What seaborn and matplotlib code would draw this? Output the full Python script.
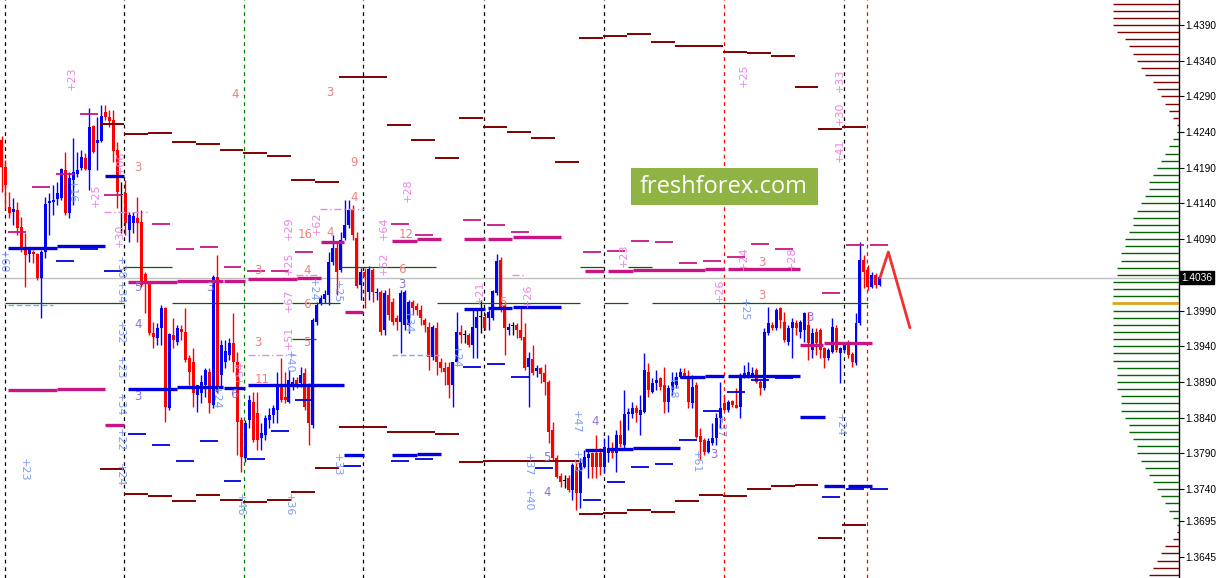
import numpy as np
import pandas as pd
import matplotlib
matplotlib.use("Agg")
import matplotlib.pyplot as plt
from matplotlib.patches import Rectangle
import seaborn as sns

sns.set_style("white")
plt.rcParams["font.family"] = ["DejaVu Sans"]

# =====================================================
# Candles (prices in pips, 1.0000 = 10000)
# =====================================================

opens = [14229, 14191, 14135, 14128, 14131, 14107, 14078, 14069, 14072, 14069,
         14036, 14072, 14141, 14142, 14146, 14148, 14187, 14127, 14173, 14181,
         14190, 14204, 14187, 14249, 14225, 14228, 14268, 14261, 14257, 14215,
         14152, 14155, 14103, 14113, 14120, 14114, 14041, 14030, 13959, 13952,
         13966, 13994, 13854, 13956, 13946, 13964, 13960, 13924, 13918, 13872,
         13875, 13886, 13904, 13858, 14037, 13900, 13918, 13928, 13945, 13918,
         13837, 13784, 13837, 13862, 13847, 13812, 13816, 13837, 13844, 13851,
         13886, 13869, 13862, 13886, 13893, 13889, 13903, 13883, 13830, 13974,
         14001, 14006, 14012, 14058, 14078, 14047, 14092, 14110, 14131, 14092,
         14026, 14044, 14016, 14047, 14015, 14016, 13963, 14012, 14002, 13980,
         13974, 13970, 13970, 14002, 13997, 13991, 13977, 13967, 13925, 13966,
         13918, 13910, 13911, 13886, 13918, 13960, 13956, 13956, 13942, 13966,
         13981, 13981, 13980, 13980, 14015, 14061, 13998, 13963, 13969, 13970,
         13963, 13953, 13911, 13922, 13906, 13910, 13903, 13890, 13823, 13784,
         13759, 13752, 13756, 13739, 13771, 13735, 13771, 13784, 13791, 13791,
         13791, 13771, 13791, 13798, 13791, 13816, 13802, 13845, 13845, 13854,
         13844, 13848, 13904, 13876, 13889, 13896, 13886, 13862, 13879, 13886,
         13897, 13903, 13897, 13861, 13886, 13815, 13809, 13792, 13805, 13812,
         13840, 13861, 13851, 13864, 13858, 13855, 13897, 13897, 13900, 13907,
         13890, 13882, 13959, 13970, 13966, 13994, 13974, 13946, 13966, 13973,
         13960, 13963, 13970, 13935, 13960, 13963, 13938, 13924, 13932, 13966,
         13931, 13935, 13946, 13929, 13917, 13973, 14061, 14047, 14023, 14040,
         14026]

closes = [14191, 14166, 14127, 14132, 14106, 14078, 14068, 14075, 14069, 14036,
          14072, 14139, 14144, 14145, 14155, 14188, 14127, 14176, 14184, 14187,
          14205, 14188, 14247, 14212, 14229, 14263, 14261, 14256, 14214, 14156,
          14152, 14113, 14124, 14123, 14113, 14026, 14030, 13959, 13953, 13966,
          13994, 13855, 13957, 13949, 13966, 13960, 13921, 13904, 13875, 13886,
          13890, 13907, 13861, 14037, 13876, 13942, 13934, 13945, 13918, 13834,
          13785, 13833, 13865, 13809, 13809, 13819, 13840, 13844, 13854, 13886,
          13865, 13865, 13893, 13890, 13886, 13900, 13855, 13833, 13977, 13998,
          14008, 14013, 14058, 14078, 14044, 14089, 14110, 14131, 14096, 14025,
          14044, 14037, 14048, 14016, 14016, 13960, 14015, 13984, 13974, 13974,
          14015, 14016, 14002, 13994, 13991, 13980, 13970, 13925, 13967, 13918,
          13910, 13904, 13886, 13918, 13960, 13956, 13956, 13942, 13967, 13981,
          13981, 13966, 13988, 14018, 14060, 13991, 13966, 13967, 13969, 13963,
          13952, 13910, 13924, 13903, 13910, 13901, 13890, 13820, 13784, 13757,
          13750, 13752, 13739, 13774, 13735, 13777, 13785, 13789, 13771, 13771,
          13771, 13799, 13798, 13791, 13816, 13803, 13845, 13848, 13854, 13847,
          13851, 13907, 13879, 13889, 13893, 13883, 13862, 13882, 13890, 13897,
          13904, 13897, 13862, 13883, 13813, 13806, 13792, 13808, 13812, 13840,
          13854, 13851, 13862, 13858, 13854, 13900, 13903, 13904, 13903, 13890,
          13882, 13960, 13973, 13966, 13991, 13977, 13949, 13966, 13974, 13966,
          13974, 13987, 13945, 13959, 13945, 13935, 13924, 13935, 13967, 13935,
          13938, 13945, 13928, 13918, 13973, 14061, 14044, 14023, 14040, 14026,
          14037]

highs = [14235, 14201, 14156, 14148, 14142, 14121, 14099, 14079, 14075, 14071,
         14075, 14149, 14155, 14166, 14170, 14190, 14212, 14184, 14232, 14212,
         14215, 14211, 14274, 14250, 14261, 14278, 14278, 14271, 14271, 14226,
         14170, 14173, 14128, 14128, 14149, 14131, 14044, 14030, 13974, 13973,
         13998, 13995, 13959, 13980, 13970, 13970, 13994, 13928, 13938, 13886,
         13900, 13910, 13910, 14040, 14068, 13949, 13949, 13952, 13987, 13932,
         13841, 13837, 13872, 13876, 13876, 13833, 13844, 13854, 13858, 13904,
         13924, 13904, 13907, 13897, 13897, 13911, 13910, 13889, 13980, 14002,
         14012, 14019, 14072, 14096, 14086, 14100, 14145, 14145, 14138, 14100,
         14050, 14050, 14053, 14050, 14022, 14019, 14019, 14022, 14008, 13984,
         14019, 14019, 14005, 14005, 14001, 13998, 13980, 13974, 13970, 13974,
         13924, 13918, 13918, 13918, 13988, 13970, 13963, 13959, 13994, 13994,
         14005, 13987, 13991, 14019, 14069, 14065, 14002, 13973, 13974, 13973,
         13994, 13973, 13932, 13942, 13914, 13911, 13915, 13893, 13834, 13788,
         13763, 13760, 13760, 13777, 13778, 13784, 13795, 13795, 13792, 13816,
         13798, 13812, 13816, 13806, 13823, 13837, 13879, 13854, 13862, 13858,
         13872, 13931, 13917, 13896, 13907, 13897, 13911, 13886, 13904, 13904,
         13910, 13910, 13907, 13900, 13890, 13826, 13812, 13812, 13833, 13847,
         13890, 13872, 13865, 13865, 13882, 13903, 13914, 13918, 13911, 13910,
         13893, 13966, 13995, 13974, 13994, 13995, 13988, 13970, 13980, 13977,
         13977, 13988, 13988, 13966, 13966, 13966, 13939, 13938, 13980, 13970,
         13939, 13946, 13949, 13932, 13987, 14086, 14068, 14054, 14044, 14043,
         14037]

lows = [14156, 14134, 14120, 14110, 14096, 14072, 14023, 14058, 14057, 14033,
        13980, 14064, 14096, 14124, 14138, 14145, 14124, 14120, 14138, 14177,
        14187, 14187, 14159, 14211, 14187, 14226, 14257, 14247, 14198, 14134,
        14099, 14096, 14086, 14099, 14086, 14023, 13987, 13956, 13938, 13942,
        13942, 13834, 13851, 13938, 13942, 13949, 13918, 13886, 13855, 13848,
        13861, 13869, 13847, 13854, 13875, 13882, 13910, 13921, 13904, 13788,
        13764, 13778, 13826, 13806, 13795, 13795, 13809, 13826, 13833, 13833,
        13862, 13861, 13861, 13879, 13882, 13883, 13851, 13802, 13826, 13970,
        13998, 14001, 13998, 14054, 14012, 14044, 14089, 14106, 14089, 14022,
        14005, 13994, 14005, 14002, 14005, 13956, 13956, 13977, 13970, 13963,
        13931, 13963, 13959, 13984, 13984, 13970, 13960, 13907, 13921, 13900,
        13904, 13886, 13868, 13855, 13917, 13945, 13945, 13939, 13924, 13924,
        13959, 13963, 13963, 13977, 14012, 13988, 13928, 13956, 13956, 13952,
        13949, 13907, 13855, 13900, 13897, 13889, 13872, 13805, 13781, 13756,
        13743, 13742, 13736, 13725, 13711, 13714, 13770, 13756, 13756, 13756,
        13760, 13763, 13778, 13784, 13764, 13799, 13798, 13823, 13840, 13834,
        13816, 13847, 13869, 13875, 13879, 13879, 13847, 13848, 13872, 13882,
        13896, 13896, 13854, 13854, 13812, 13781, 13788, 13791, 13802, 13802,
        13826, 13851, 13848, 13855, 13854, 13840, 13896, 13896, 13897, 13889,
        13872, 13879, 13956, 13963, 13963, 13966, 13946, 13942, 13924, 13956,
        13952, 13946, 13921, 13924, 13928, 13924, 13910, 13921, 13931, 13932,
        13889, 13932, 13924, 13911, 13914, 13970, 14022, 14019, 14022, 14022,
        14025]

# day separators (bar positions)
day_black = [0.9, 30.7, 90.5, 120.8, 150.9, 211.0]
day_green = [60.7]
day_red = [180.9, 216.8]

current_price = 14036

# =====================================================
# Level segments
# =====================================================

# maroon range levels, one per 6-bar slot starting at slot 4
maroon_upper = [14251, 14237, 14239, 14226, 14223, 14215, 14211, 14207, 14173, 14170,
                14317, 14317, 14250, 14229, 14204, 14260, 14247, 14240, 14232, 14198,
                14372, 14375, 14377, 14366, 14361, 14361, 14352, 14351, 14347, 14303,
                14244, 14247]
maroon_lower = [13768, 13733, 13731, 13724, 13732, 13725, 13722, 13725, 13736, 13770,
                13827, 13827, 13820, 13820, 13817, 13778, 13780, 13780, 13780, 13780,
                13705, 13707, 13711, 13708, 13724, 13732, 13731, 13740, 13745, 13746,
                13672, 13690]

# thin short levels: (slot, price)
thin_magenta = [(0, 14100), (1, 14163), (2, 14181), (3, 14265), (4, 14152), (6, 14111),
                (7, 14076), (8, 14079), (9, 14051), (10, 14046), (11, 14046), (12, 14072),
                (16, 14111), (17, 14096), (19, 14117), (20, 14110), (21, 14100), (24, 14072),
                (25, 14074), (26, 14088), (27, 14086), (28, 14057), (29, 14060), (30, 14065),
                (31, 14083), (32, 14076), (34, 14015), (35, 14082), (36, 14082)]
thin_blue = [(2, 14060), (3, 14076), (4, 14046), (5, 13817), (6, 13802), (7, 13780),
             (8, 13808), (9, 13752), (10, 13782), (11, 13822), (12, 13865), (14, 13773),
             (16, 13780), (17, 13782), (19, 13911), (20, 13915), (21, 13897), (22, 13770),
             (24, 13725), (25, 13750), (26, 13771), (27, 13775), (28, 13809), (29, 13850),
             (30, 13876), (31, 13893), (32, 13896), (34, 13729), (35, 13740), (36, 13740)]

# thick levels: (start bar, end bar, price)
thick_magenta = [(1.6, 13.9, 13879), (13.9, 25.9, 13880), (25.9, 30.7, 13830),
                 (31.7, 44.0, 14030), (44.0, 55.5, 14032), (55.7, 61.0, 14032),
                 (61.7, 74.0, 14034), (74.0, 80.0, 14036), (80.0, 85.8, 14086),
                 (86.0, 90.5, 13988), (97.8, 104.1, 14088), (104.1, 110.1, 14090),
                 (115.8, 121.1, 14090), (121.8, 127.8, 14090), (128.1, 140.1, 14093),
                 (146.1, 150.9, 14046), (151.9, 158.1, 14046), (158.1, 176.2, 14047),
                 (176.2, 180.9, 14048), (181.9, 200.0, 14048), (200.0, 205.7, 13942),
                 (206.0, 218.0, 13945)]
thick_blue = [(1.6, 13.9, 14078), (13.9, 25.9, 14081), (25.9, 30.7, 14179),
              (31.7, 44.0, 13880), (44.0, 55.5, 13883), (55.7, 61.0, 13882),
              (61.7, 85.8, 13886), (85.8, 90.8, 13788), (97.8, 104.1, 13788),
              (104.1, 110.1, 13789), (115.8, 121.1, 13992), (121.8, 127.8, 13994),
              (128.1, 140.1, 13995), (146.1, 150.9, 13795), (151.9, 158.1, 13796),
              (158.1, 170.0, 13798), (170.0, 176.2, 13897), (176.2, 180.9, 13899),
              (181.9, 200.0, 13899), (200.0, 206.2, 13841), (206.0, 211.0, 13745),
              (212.0, 218.0, 13745)]
green_levels = [(0.9, 30.7, 14001), (42.7, 70.5, 14001), (72.8, 84.8, 14001),
                (109.1, 144.9, 14001), (150.9, 156.9, 14001), (162.9, 217.0, 14001),
                (30.7, 42.7, 14051), (84.8, 108.8, 14051), (144.9, 150.9, 14051),
                (156.9, 162.9, 14051), (72.8, 78.8, 13950)]
faint_blue = [(1.6, 12.9, 13998), (97.8, 109.8, 13928)]
faint_violet = [(25.7, 36.5, 14128), (61.7, 73.8, 13928), (73.8, 79.8, 14040),
                (79.8, 90.8, 14132), (127.9, 131.4, 14040)]

# =====================================================
# Annotations: (text, bar, price)
# =====================================================

pink_labels = [("+23", 17.7, 14316), ("+25", 23.7, 14152), ("+06", 29.9, 14198),
               ("+30", 29.7, 14096), ("+29", 72.0, 14106), ("+62", 79.0, 14112),
               ("+25", 72.0, 14057), ("+67", 72.0, 14005), ("+51", 72.0, 13952),
               ("+54", 59.7, 13904), ("+64", 95.8, 14106), ("+52", 95.8, 14057),
               ("+28", 101.8, 14159), ("+21", 119.8, 14015), ("+26", 131.9, 14012),
               ("+23", 155.9, 14068), ("+26", 179.9, 14019), ("+24", 185.9, 14064),
               ("+28", 198.0, 14064), ("+25", 185.9, 14320), ("+33", 210.0, 14313),
               ("+30", 210.0, 14267), ("+41", 210.0, 14215)]
blue_labels = [("+60", 0.4, 14058), ("+23", 5.6, 13767), ("+16", 17.7, 14156),
               ("+38", 29.7, 14050), ("+34", 29.7, 14015), ("+32", 29.7, 13959),
               ("+23", 29.7, 13910), ("+34", 29.7, 13858), ("+22", 29.7, 13809),
               ("+24", 29.7, 13760), ("+24", 53.7, 13868), ("+24", 78.0, 14019),
               ("+25", 84.0, 14016), ("+40", 72.0, 13918), ("+46", 59.7, 13718),
               ("+36", 72.0, 13718), ("+33", 84.0, 13774), ("+34", 101.8, 13974),
               ("+24", 113.8, 13925), ("+37", 131.9, 13774), ("+40", 131.9, 13725),
               ("+47", 143.9, 13834), ("+53", 143.9, 13778), ("+18", 167.9, 13882),
               ("+61", 173.9, 13778), ("+37", 179.9, 13827), ("+25", 185.9, 13991),
               ("+24", 210.0, 13830)]
salmon_labels = [("4", 58.5, 14292), ("3", 34.2, 14190), ("3", 82.3, 14296),
                 ("9", 88.3, 14198), ("4", 88.3, 14148), ("16", 76.0, 14096),
                 ("4", 82.3, 14099), ("3", 64.2, 14046), ("4", 76.5, 14046),
                 ("6", 76.5, 13998), ("3", 64.2, 13945), ("11", 65.2, 13894),
                 ("5", 76.5, 13946), ("12", 101.3, 14097), ("6", 100.3, 14047),
                 ("5", 125.6, 14002), ("3", 190.5, 14058), ("3", 190.5, 14011)]
purple_labels = [("5", 34.2, 14022), ("4", 34.2, 13970), ("3", 34.2, 13869),
                 ("3", 52.2, 14023), ("6", 58.2, 13872), ("3", 100.3, 14026),
                 ("4", 148.6, 13834), ("5", 136.6, 13784), ("4", 136.6, 13735),
                 ("3", 178.4, 13788), ("3", 202.5, 13981)]

# forecast arrow
arrow_x = [220.0, 222.1, 227.5]
arrow_y = [14036, 14072, 13966]

# =====================================================
# Volume profile (price level -> length)
# =====================================================

profile_prices = list(range(14420, 13610, -10))
profile_volume = [66, 66, 66, 66, 62, 54, 50, 46, 42, 38, 34, 26, 22, 18, 14, 10, 6, 2,
                  2, 6, 10, 14, 18, 22, 26, 30, 30, 34, 38, 42, 46, 46, 50, 54, 54, 58,
                  58, 62, 62, 66, 66, 66, 67, 66, 66, 66, 66, 66, 66, 66, 66, 62, 62, 62,
                  62, 58, 58, 58, 54, 50, 50, 46, 42, 42, 38, 34, 30, 26, 22, 18, 14, 10,
                  6, 2, 2, 6, 14, 18, 22, 26, 30]

price_ticks = [14390, 14340, 14290, 14240, 14190, 14140, 14090, 13990, 13940,
               13890, 13840, 13790, 13740, 13695, 13645]

# =====================================================
# Build frame
# =====================================================

P = 1e-4
df = pd.DataFrame({
    "open": np.array(opens) * P,
    "close": np.array(closes) * P,
    "high": np.array(highs) * P,
    "low": np.array(lows) * P,
})
df["bar"] = np.arange(len(df))

def candle_color(row):
    if row["close"] > row["open"]:
        return "#0000ff"
    if row["close"] < row["open"]:
        return "#ff0000"
    return "#000000"

df["color"] = df.apply(candle_color, axis=1)

# =====================================================
# Figure
# =====================================================

W, H = 1218, 578
AX_W = 1179
fig = plt.figure(figsize=(W / 100, H / 100), dpi=100)
ax = fig.add_axes([0, 0, AX_W / W, 1])

bar_px = 3.993
x0 = -1.5 / bar_px
ax.set_xlim(x0, x0 + AX_W / bar_px)
ax.set_ylim(1.36155, 1.4425)

# day separators
for xv in day_black:
    ax.axvline(xv, color="black", lw=0.9, ls=(0, (3, 3)), zorder=1)
for xv in day_green:
    ax.axvline(xv, color="#008000", lw=0.9, ls=(0, (3, 3)), zorder=1)
for xv in day_red:
    ax.axvline(xv, color="#ff0000", lw=0.9, ls=(0, (3, 3)), zorder=1)

# current price line
ax.axhline(current_price * P, color="#c0c0c0", lw=1.0, zorder=1)

# candles
body = df["close"] - df["open"]
body = np.where(np.abs(body) < 0.00012, np.where(body < 0, -0.00012, 0.00012), body)
ax.vlines(df["bar"], df["low"], df["high"], colors=df["color"], lw=1.0, zorder=2)
ax.bar(df["bar"], body, bottom=df["open"], width=0.75, color=df["color"],
       linewidth=0, zorder=2)

# maroon levels
for k, (up, lo) in enumerate(zip(maroon_upper, maroon_lower)):
    s = 0.6 + 6 * (k + 4)
    ax.hlines(up * P, s, s + 6, colors="#800000", lw=1.4, zorder=3)
    ax.hlines(lo * P, s, s + 6, colors="#800000", lw=1.4, zorder=3)

for slot, pr in thin_magenta:
    s = 1.6 + 6 * slot
    ax.hlines(pr * P, s, s + 4.5, colors="#c71585", lw=1.3, zorder=3)
for slot, pr in thin_blue:
    s = 1.6 + 6 * slot
    ax.hlines(pr * P, s, s + 4.5, colors="#0000dd", lw=1.3, zorder=3)

for a, b, pr in thick_magenta:
    ax.hlines(pr * P, a, b, colors="#c71585", lw=2.4, zorder=3)
for a, b, pr in thick_blue:
    ax.hlines(pr * P, a, b, colors="#0000dd", lw=2.4, zorder=3)
for a, b, pr in green_levels:
    ax.hlines(pr * P, a, b, colors="#006400", lw=0.9, zorder=3)
for a, b, pr in faint_blue:
    ax.hlines(pr * P, a, b, colors="#7fa7ef", lw=1.0, ls=(0, (4, 2)), zorder=3)
for a, b, pr in faint_violet:
    ax.hlines(pr * P, a, b, colors="#e38de3", lw=1.0, ls=(0, (5, 2, 1, 2)), zorder=3)

# annotations
for t, xb, pr in pink_labels:
    ax.text(xb, pr * P, t, rotation=90, ha="center", va="center",
            color="#e986e0", fontsize=8, zorder=4)
for t, xb, pr in blue_labels:
    ax.text(xb, pr * P, t, rotation=270, ha="center", va="center",
            color="#7c9cf0", fontsize=8, zorder=4)
for t, xb, pr in salmon_labels:
    ax.text(xb, pr * P, t, ha="center", va="center", color="#f08080",
            fontsize=8.5, zorder=4)
for t, xb, pr in purple_labels:
    ax.text(xb, pr * P, t, ha="center", va="center", color="#9370db",
            fontsize=8.5, zorder=4)

# forecast arrow
sns.lineplot(x=arrow_x, y=np.array(arrow_y) * P, ax=ax, color="#f23030",
             lw=2.0, sort=False, estimator=None, zorder=5)

# volume profile at the right edge
prof_colors = []
for pr in profile_prices:
    if pr == 14000:
        prof_colors.append("#daa520")
    elif 13685 < pr < 14245:
        prof_colors.append("#006400")
    else:
        prof_colors.append("#800000")
prof_lw = [2.0 if c == "#daa520" else 1.0 for c in prof_colors]
ax.hlines(np.array(profile_prices) * P,
          1 - np.array(profile_volume) / AX_W, 1.0,
          transform=ax.get_yaxis_transform(),
          colors=prof_colors, lw=prof_lw, zorder=3)

# watermark
fig.patches.append(Rectangle((631 / W, 1 - 205 / H), 187 / W, 37 / H,
                             transform=fig.transFigure, facecolor="#8fb443",
                             edgecolor="none", zorder=6))
fig.text(724 / W, 1 - 187 / H, "freshforex.com", color="white",
         fontsize=17, ha="center", va="center",
         family=["Open Sans", "DejaVu Sans"], zorder=7)

# axes styling
for side in ["top", "left", "bottom"]:
    ax.spines[side].set_visible(False)
ax.spines["right"].set_color("black")
ax.spines["right"].set_linewidth(1.0)
ax.set_xticks([])
ax.yaxis.tick_right()
ax.set_yticks(np.array(price_ticks) * P)
ax.set_yticklabels([f"{v * P:.4f}" for v in price_ticks],
                   family=["Liberation Sans", "DejaVu Sans"])
ax.tick_params(axis="y", direction="out", length=3.5, width=0.8,
               labelsize=7.3, pad=1.2, colors="black")
ax.set_ylabel("")
ax.set_xlabel("")
ax.grid(False)

ax.text(1.0022, current_price * P, f"{current_price * P:.4f}",
        transform=ax.get_yaxis_transform(), ha="left", va="center",
        color="white", fontsize=7.3, clip_on=False, zorder=8,
        family=["Liberation Sans", "DejaVu Sans"],
        bbox=dict(facecolor="black", edgecolor="black", pad=1.2))

fig.savefig("out.png", dpi=100)
